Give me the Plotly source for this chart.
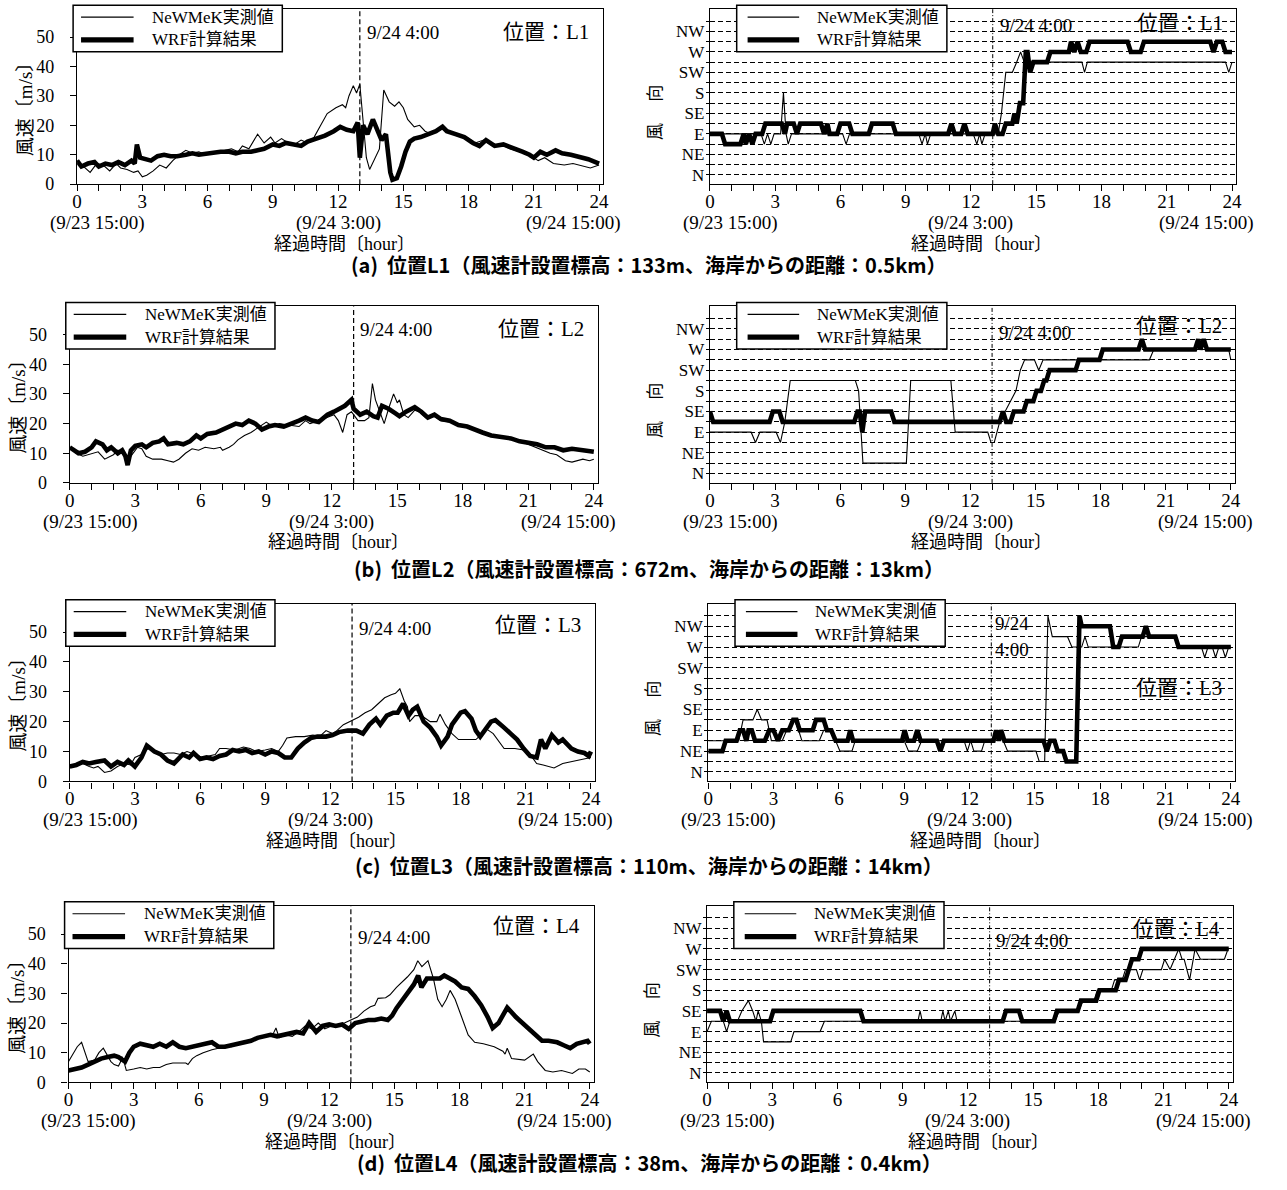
import plotly.graph_objects as go

# ---------------------------------------------------------------- labels
COMPASS16 = ["N", "NNE", "NE", "ENE", "E", "ESE", "SE", "SSE",
             "S", "SSW", "SW", "WSW", "W", "WNW", "NW", "NNW"]
HOUR_TICKS = list(range(0, 25, 3))
SPEED_TICKS = [0, 10, 20, 30, 40, 50]
DATE_LABELS = ["(9/23 15:00)", "(9/24 3:00)", "(9/24 15:00)"]
EVENT_HOUR = 13
EVENT_LABEL = "9/24 4:00"
SERIES_NAMES = ["NeWMeK実測値", "WRF計算結果"]
STATIONS = ["L1", "L2", "L3", "L4"]
CAPTIONS = [
    "(a)  位置L1（風速計設置標高：133m、海岸からの距離：0.5km）",
    "(b)  位置L2（風速計設置標高：672m、海岸からの距離：13km）",
    "(c)  位置L3（風速計設置標高：110m、海岸からの距離：14km）",
    "(d)  位置L4（風速計設置標高：38m、海岸からの距離：0.4km）",
]
X_TITLE = "経過時間〔hour〕"
SPEED_TITLE = "風速〔m/s〕"
DIR_TITLE = "風　 向"

# ---------------------------------------------------------------- wind speed (hour, m/s)
l1_speed_obs = [(0, 8), (0.3, 6), (0.6, 4), (0.9, 7), (1.2, 6.5), (1.5, 4.5), (1.8, 7), (2.0, 5.5),
                (2.3, 5), (2.6, 4), (2.8, 4.5), (3.0, 2.5), (3.2, 3), (3.5, 4.5), (3.8, 6.5), (4.1, 5.5),
                (4.4, 8), (4.7, 10), (5.0, 11.5), (5.3, 10.5), (5.6, 11), (5.9, 10), (6.2, 11), (6.5, 10.5),
                (6.8, 11.5), (7.1, 12), (7.4, 11), (7.6, 13), (7.9, 12), (8.3, 17), (8.6, 14), (8.9, 16),
                (9.1, 14), (9.4, 15.5), (9.7, 14), (10.0, 13.5), (10.3, 15), (10.6, 14), (10.9, 16),
                (11.2, 20), (11.5, 24), (11.9, 26), (12.2, 27), (12.35, 26), (12.5, 30), (12.7, 33.5),
                (12.85, 31), (13.0, 34), (13.15, 20), (13.3, 9), (13.45, 5), (13.7, 9), (13.9, 12),
                (14.1, 32), (14.35, 28), (14.6, 26.5), (14.8, 28), (15.0, 26), (15.2, 22), (15.5, 19.5),
                (15.75, 20), (16.0, 18), (16.3, 17), (16.6, 18), (16.85, 19.5), (17.1, 18), (17.5, 17),
                (17.9, 16), (18.3, 14), (18.7, 15), (19.1, 13), (19.5, 13.5), (19.9, 12), (20.4, 11),
                (20.8, 10), (21.2, 8), (21.5, 9), (21.9, 7), (22.4, 6.5), (22.8, 7), (23.3, 6),
                (23.6, 5.5), (24.0, 6.5)]
l1_speed_wrf = [(0, 8), (0.2, 6), (0.5, 7), (0.8, 7.5), (1.0, 6), (1.3, 7), (1.6, 6.5), (1.9, 7.5),
                (2.2, 6.5), (2.5, 8), (2.65, 7), (2.75, 13.5), (2.9, 9), (3.1, 8.5), (3.4, 8), (3.7, 9.5),
                (4.0, 10), (4.3, 9.5), (4.6, 9.5), (5.0, 10), (5.3, 10.5), (5.6, 10), (6.0, 10.5),
                (6.3, 10.5), (6.6, 11), (7.0, 11), (7.3, 10.5), (7.6, 11), (8.0, 11), (8.3, 11.5),
                (8.6, 12), (9.0, 13.5), (9.3, 13), (9.6, 14), (10.0, 13.5), (10.3, 13), (10.6, 14.5),
                (11.0, 15.5), (11.4, 16.5), (11.8, 18), (12.1, 19.5), (12.4, 18.5), (12.7, 18),
                (12.9, 21), (13.0, 9), (13.15, 20), (13.35, 17), (13.6, 22), (13.8, 18), (14.0, 15),
                (14.2, 17), (14.3, 10), (14.4, 4), (14.5, 1.5), (14.7, 2), (14.9, 6), (15.1, 11),
                (15.3, 14.5), (15.5, 15.5), (15.8, 16), (16.2, 17), (16.5, 18), (16.8, 19.5), (17.0, 18),
                (17.4, 17), (17.8, 16), (18.2, 14), (18.5, 13), (18.8, 15), (19.2, 13), (19.6, 13.5),
                (20.0, 12.5), (20.5, 11), (20.8, 10), (21.0, 9), (21.3, 11), (21.6, 10), (22.0, 11.5),
                (22.3, 10.5), (22.7, 10), (23.0, 9.5), (23.5, 8.5), (24.0, 7)]

l2_speed_obs = [(0, 12), (0.3, 10), (0.6, 9), (1.0, 10), (1.3, 10.5), (1.6, 8), (2.0, 9.5), (2.2, 11),
                (2.5, 10), (2.7, 8), (2.9, 10), (3.1, 12), (3.3, 11.5), (3.5, 9), (3.8, 8), (4.2, 8),
                (4.5, 7.5), (4.75, 7), (5.0, 8), (5.3, 10), (5.6, 11.5), (5.9, 11), (6.2, 12), (6.6, 11.5),
                (6.9, 12), (7.0, 11), (7.3, 12), (7.5, 13), (7.7, 14.5), (8.0, 16), (8.3, 17), (8.5, 18),
                (8.8, 19.5), (9.0, 20.5), (9.3, 19), (9.6, 20), (10.0, 19.5), (10.5, 19), (10.8, 21),
                (11.0, 20), (11.4, 21), (11.8, 22), (12.1, 23), (12.3, 21), (12.5, 17), (12.7, 23),
                (12.9, 24), (13.0, 23), (13.2, 21), (13.5, 21), (13.7, 22), (13.86, 33.5), (14.0, 28),
                (14.2, 24), (14.4, 20), (14.6, 25), (14.83, 30), (15.0, 27), (15.1, 28), (15.3, 23),
                (15.5, 22), (15.8, 24.5), (16.0, 24), (16.3, 22), (16.6, 23), (17.0, 21), (17.5, 20.5),
                (18.0, 19), (18.5, 18), (19.0, 17), (19.5, 16), (20.0, 15), (20.5, 14.5), (21.0, 13),
                (21.3, 12), (21.7, 11), (22.0, 10), (22.3, 9.5), (22.7, 7.5), (23.0, 7), (23.5, 8),
                (23.8, 7.5), (24.0, 8)]
l2_speed_wrf = [(0, 12), (0.2, 11), (0.4, 10), (0.7, 10.5), (1.0, 12), (1.2, 14), (1.5, 13), (1.7, 11),
                (1.9, 12), (2.2, 10), (2.4, 11), (2.55, 9), (2.65, 6), (2.8, 11), (3.0, 12.5), (3.3, 13),
                (3.5, 12), (3.8, 13.5), (4.1, 14), (4.3, 15), (4.5, 13), (4.9, 13.5), (5.2, 13), (5.5, 14),
                (5.8, 16), (6.0, 15), (6.3, 16.5), (6.7, 17), (7.0, 18), (7.3, 19), (7.6, 20), (7.9, 19.5),
                (8.2, 21), (8.5, 20), (8.8, 18), (9.1, 19), (9.4, 19.5), (9.8, 19), (10.2, 20), (10.5, 21),
                (10.8, 22), (11.1, 21), (11.4, 20.5), (11.8, 23), (12.1, 24), (12.4, 25), (12.6, 26),
                (12.9, 28), (13.0, 25), (13.3, 23), (13.6, 24), (13.9, 22.5), (14.1, 22), (14.3, 26),
                (14.6, 25), (14.9, 23.5), (15.1, 22.5), (15.4, 24), (15.8, 25.5), (16.1, 24), (16.4, 22),
                (16.7, 23), (17.0, 21.5), (17.4, 21), (17.8, 19.5), (18.2, 19), (18.5, 18), (18.9, 17),
                (19.3, 16), (19.8, 15.5), (20.2, 15), (20.6, 14), (21.0, 13.5), (21.4, 13), (21.8, 12),
                (22.2, 12), (22.6, 11), (23.0, 11.5), (23.5, 11), (24.0, 10.5)]

l3_speed_obs = [(0, 5), (0.3, 5.5), (0.6, 6), (0.9, 5), (1.1, 4.5), (1.3, 5), (1.6, 3), (1.9, 3.5),
                (2.2, 5), (2.5, 6), (2.8, 5.5), (3.0, 8), (3.3, 9), (3.6, 11), (3.9, 10), (4.2, 9),
                (4.5, 9.5), (4.8, 9.5), (5.1, 9), (5.4, 10), (5.8, 9), (6.1, 8), (6.4, 8.5), (6.7, 9),
                (6.9, 11), (7.2, 11), (7.6, 10.5), (8.0, 11.5), (8.3, 11), (8.6, 10), (9.0, 10.5),
                (9.3, 11), (9.6, 10), (9.8, 12), (10.0, 14.5), (10.4, 15), (10.8, 15), (11.2, 15.5),
                (11.5, 15), (11.8, 17), (12.1, 16), (12.3, 17), (12.6, 19), (13.0, 20.5), (13.3, 21.5),
                (13.6, 23), (13.9, 24), (14.2, 26), (14.5, 28), (14.8, 29), (15.0, 29.5), (15.2, 31),
                (15.4, 27), (15.55, 25), (15.65, 20), (15.9, 22), (16.2, 22), (16.6, 20), (16.9, 20),
                (17.05, 22.5), (17.3, 19), (17.6, 16), (17.9, 14), (18.3, 14), (18.7, 14), (19.0, 16),
                (19.2, 17.5), (19.5, 16), (19.8, 13), (20.0, 11), (20.5, 11), (20.9, 10.5), (21.2, 9),
                (21.5, 6), (21.8, 5.5), (22.1, 5), (22.3, 4.5), (22.7, 6), (23.0, 6.5), (23.3, 7),
                (23.7, 7.5), (24.0, 8)]
l3_speed_wrf = [(0, 5), (0.3, 5.5), (0.6, 6.5), (0.9, 6), (1.2, 6.5), (1.6, 7), (1.9, 5), (2.2, 6.5),
                (2.5, 5.5), (2.7, 7), (3.0, 5), (3.3, 8), (3.55, 12), (3.9, 10), (4.2, 9), (4.5, 7),
                (4.8, 6), (5.0, 7.5), (5.2, 9), (5.5, 8), (5.7, 9.5), (6.0, 7.5), (6.3, 8), (6.6, 7.5),
                (6.9, 8.5), (7.2, 9), (7.5, 10.5), (7.8, 10), (8.1, 10.5), (8.4, 9.5), (8.7, 10), (9.0, 9),
                (9.3, 10), (9.6, 9.5), (9.9, 8), (10.2, 8), (10.5, 11), (10.8, 13), (11.1, 14.5),
                (11.4, 15), (11.8, 15), (12.1, 15.5), (12.4, 16.5), (12.8, 17), (13.2, 17), (13.5, 16),
                (13.8, 19), (14.1, 21), (14.3, 19), (14.6, 22), (14.9, 23), (15.1, 23), (15.35, 26),
                (15.6, 22), (15.8, 24), (16.0, 25), (16.3, 20), (16.6, 18), (16.9, 15), (17.1, 12),
                (17.4, 15), (17.6, 19), (17.8, 21), (18.0, 23), (18.2, 23.5), (18.5, 21), (18.7, 17),
                (18.9, 15), (19.2, 18), (19.4, 20), (19.6, 20.5), (19.8, 19), (20.0, 18), (20.3, 16),
                (20.6, 14), (20.9, 11), (21.2, 8.5), (21.5, 8), (21.7, 14), (21.9, 11), (22.2, 15.5),
                (22.5, 13), (22.7, 14), (23.1, 11), (23.4, 10), (23.7, 9.5), (23.9, 8.5), (24.0, 10)]

l4_speed_obs = [(0, 7), (0.15, 9), (0.4, 12), (0.6, 13.5), (0.75, 10), (0.9, 7), (1.2, 7.5), (1.4, 10),
                (1.6, 11.5), (1.8, 9), (1.95, 7), (2.1, 6), (2.3, 5.5), (2.4, 7), (2.45, 8.7), (2.55, 7),
                (2.66, 4), (3.0, 4.5), (3.3, 5), (3.6, 4.5), (3.9, 5), (4.2, 5), (4.5, 6), (4.8, 6.5),
                (5.1, 6.5), (5.4, 6.5), (5.5, 6), (5.7, 8), (5.9, 9), (6.2, 10), (6.6, 11), (6.9, 11.5),
                (7.2, 12.5), (7.5, 12), (7.8, 13), (8.1, 13.5), (8.4, 14), (8.7, 14.5), (9.0, 15.5),
                (9.4, 16), (9.55, 18.3), (9.7, 15), (10.0, 16), (10.3, 15.5), (10.6, 17), (10.9, 19),
                (11.2, 18), (11.5, 20), (11.8, 18), (12.1, 19), (12.4, 19.5), (12.7, 20), (13.0, 21),
                (13.3, 22), (13.6, 24), (13.9, 25.5), (14.1, 26), (14.25, 28.3), (14.6, 28.5),
                (14.8, 29.5), (15.1, 32), (15.4, 34), (15.6, 35.5), (15.9, 38), (16.08, 41),
                (16.27, 39), (16.4, 40), (16.55, 41), (16.8, 35), (17.0, 28), (17.2, 25.5), (17.4, 28),
                (17.57, 31), (17.8, 28), (18.1, 22), (18.4, 16), (18.7, 13.5), (19.1, 13), (19.6, 12),
                (20.0, 10.5), (20.1, 9.5), (20.2, 11.5), (20.4, 8), (20.8, 7.5), (21.0, 7.5), (21.4, 9.5),
                (21.6, 7), (21.95, 4), (22.3, 3.5), (22.7, 4), (23.0, 3.5), (23.2, 3), (23.5, 4.5),
                (23.8, 4.5), (24.0, 3.5)]
l4_speed_wrf = [(0, 4), (0.3, 4.5), (0.6, 5), (0.9, 6), (1.2, 7), (1.5, 8), (1.8, 8.5), (2.1, 9),
                (2.3, 8.5), (2.6, 7), (2.8, 10), (3.0, 12), (3.3, 13), (3.6, 12.5), (3.9, 12), (4.2, 13),
                (4.5, 12), (4.8, 13.5), (5.1, 12), (5.4, 11.5), (5.7, 12), (6.0, 12.5), (6.3, 13),
                (6.6, 13.5), (6.9, 12), (7.2, 12), (7.5, 12.5), (7.8, 13), (8.1, 13.5), (8.4, 14),
                (8.7, 15), (9.0, 15.5), (9.3, 16), (9.6, 15.5), (9.9, 16), (10.2, 16.5), (10.5, 17),
                (10.8, 16.5), (11.08, 20), (11.4, 17), (11.7, 19), (12.0, 19.5), (12.3, 19), (12.6, 19.5),
                (12.9, 18), (13.2, 20), (13.5, 20.5), (13.8, 21), (14.1, 21), (14.4, 21.5), (14.7, 21),
                (14.9, 22.5), (15.1, 25), (15.4, 28), (15.6, 29.5), (15.9, 33), (16.1, 36), (16.25, 32),
                (16.5, 35), (16.8, 35), (17.1, 35), (17.3, 36), (17.6, 35), (17.8, 34), (18.1, 32),
                (18.4, 31.5), (18.7, 29), (19.0, 26), (19.3, 22), (19.53, 18.3), (19.8, 20), (20.05, 23),
                (20.2, 25.2), (20.6, 22), (20.9, 20), (21.2, 18), (21.5, 15.5), (21.8, 14), (22.1, 14),
                (22.5, 13.5), (22.8, 12.5), (23.1, 11.5), (23.4, 13), (23.7, 13.5), (23.9, 14), (24.0, 13)]

# ---------------------------------------------------------------- wind direction (hour, 16-point compass)
l1_dir_obs = [(0, "E"), (2.35, "E"), (2.5, "ENE"), (2.65, "E"), (2.8, "ENE"), (2.95, "E"), (3.25, "E"),
              (3.38, "S"), (3.5, "E"), (3.6, "ENE"), (3.75, "E"), (6.1, "E"), (6.26, "ENE"), (6.42, "E"),
              (9.6, "E"), (9.75, "ENE"), (9.9, "E"), (10.0, "ENE"), (10.15, "E"), (12.1, "E"),
              (12.27, "ENE"), (12.4, "E"), (12.5, "ENE"), (12.65, "E"), (13.25, "E"), (13.4, "SE"),
              (13.6, "SW"), (13.9, "SW"), (14.1, "WSW"), (14.28, "W"), (14.45, "WSW"), (17.1, "WSW"),
              (17.22, "SW"), (17.35, "WSW"), (23.7, "WSW"), (23.85, "SW"), (24.0, "WSW")]
l1_dir_wrf = [(0, "E"), (0.55, "E"), (0.7, "ENE"), (1.4, "ENE"), (1.55, "E"), (1.65, "ENE"), (1.8, "E"),
              (1.95, "ENE"), (2.1, "E"), (2.4, "E"), (2.55, "ESE"), (3.3, "ESE"), (3.45, "E"),
              (3.55, "ESE"), (3.85, "ESE"), (4.0, "E"), (4.15, "ESE"), (5.1, "ESE"), (5.25, "E"),
              (5.4, "ESE"), (5.5, "E"), (5.85, "E"), (6.0, "ESE"), (6.4, "ESE"), (6.55, "E"), (7.3, "E"),
              (7.45, "ESE"), (8.4, "ESE"), (8.55, "E"), (10.95, "E"), (11.1, "ESE"), (11.25, "E"),
              (11.55, "E"), (11.7, "ESE"), (11.85, "E"), (13.0, "E"), (13.1, "ESE"), (13.25, "E"),
              (13.45, "E"), (13.6, "ESE"), (13.9, "ESE"), (14.0, "SE"), (14.1, "ESE"), (14.25, "SSE"),
              (14.4, "SSE"), (14.52, "W"), (14.6, "W"), (14.72, "SW"), (14.87, "WSW"), (15.5, "WSW"),
              (15.65, "W"), (16.5, "W"), (16.6, "WNW"), (16.75, "W"), (16.9, "WNW"), (17.05, "W"),
              (17.3, "W"), (17.45, "WNW"), (19.2, "WNW"), (19.35, "W"), (19.8, "W"), (19.95, "WNW"),
              (23.0, "WNW"), (23.15, "W"), (23.3, "WNW"), (23.55, "WNW"), (23.7, "W"), (24.0, "W")]

l2_dir_obs = [(0, "E"), (1.9, "E"), (2.1, "ENE"), (2.3, "E"), (3.05, "E"), (3.25, "ENE"), (3.45, "ESE"),
              (3.7, "SSW"), (6.7, "SSW"), (6.85, "S"), (7.05, "NNE"), (9.05, "NNE"), (9.25, "SSW"),
              (11.1, "SSW"), (11.3, "E"), (12.8, "E"), (12.95, "ENE"), (13.1, "ENE"), (13.35, "ESE"),
              (13.6, "SE"), (13.85, "SSE"), (14.1, "S"), (14.3, "SW"), (14.5, "WSW"), (14.95, "WSW"),
              (15.15, "SW"), (15.35, "WSW"), (20.25, "WSW"), (20.45, "W"), (23.9, "W"), (24.0, "WSW")]
l2_dir_wrf = [(0, "SE"), (0.15, "ESE"), (2.75, "ESE"), (2.9, "SE"), (3.2, "SE"), (3.35, "ESE"),
              (6.65, "ESE"), (6.8, "SE"), (6.9, "SE"), (7.02, "E"), (7.15, "SE"), (8.35, "SE"),
              (8.5, "ESE"), (13.35, "ESE"), (13.5, "SE"), (13.65, "ESE"), (13.85, "ESE"), (14.0, "SE"),
              (14.45, "SE"), (14.6, "SSE"), (14.9, "SSE"), (15.05, "S"), (15.25, "S"), (15.4, "SSW"),
              (15.5, "SSW"), (15.65, "SW"), (16.85, "SW"), (17.0, "WSW"), (17.95, "WSW"), (18.1, "W"),
              (19.75, "W"), (19.9, "WNW"), (20.05, "W"), (22.35, "W"), (22.5, "WNW"), (22.6, "W"),
              (22.75, "WNW"), (22.9, "W"), (24.0, "W")]

l3_dir_obs = [(0, "ENE"), (1.4, "ENE"), (1.6, "ESE"), (2.05, "ESE"), (2.25, "SE"), (2.45, "ESE"),
              (2.7, "ESE"), (2.9, "ENE"), (3.4, "ENE"), (3.6, "E"), (3.95, "ESE"), (4.15, "E"),
              (4.3, "ENE"), (5.1, "ENE"), (5.3, "E"), (5.6, "E"), (5.85, "ENE"), (6.05, "NE"),
              (6.6, "NE"), (6.75, "ENE"), (9.0, "ENE"), (9.2, "NE"), (9.6, "NE"), (9.8, "ENE"),
              (11.75, "ENE"), (11.9, "NE"), (12.05, "ENE"), (12.2, "NE"), (12.55, "NE"), (12.7, "ENE"),
              (13.15, "ENE"), (13.35, "E"), (13.55, "ENE"), (13.75, "NE"), (15.05, "NE"), (15.2, "NNE"),
              (15.45, "NNE"), (15.6, "NNW"), (15.8, "WNW"), (16.5, "WNW"), (16.7, "W"), (17.15, "W"),
              (17.3, "WNW"), (17.45, "W"), (19.75, "W"), (19.9, "WNW"), (21.5, "WNW"), (21.65, "W"),
              (22.65, "W"), (22.8, "WSW"), (22.95, "W"), (23.15, "W"), (23.3, "WSW"), (23.45, "W"),
              (23.6, "W"), (23.75, "WSW"), (23.9, "W"), (24.0, "W")]
l3_dir_wrf = [(0, "NE"), (0.65, "NE"), (0.8, "ENE"), (1.3, "ENE"), (1.45, "E"), (1.6, "E"), (1.75, "ENE"),
              (1.85, "E"), (2.0, "E"), (2.15, "ENE"), (2.6, "ENE"), (2.8, "E"), (3.0, "E"), (3.2, "ENE"),
              (3.4, "E"), (3.7, "E"), (3.9, "ESE"), (4.05, "ESE"), (4.2, "E"), (4.8, "E"), (4.95, "ESE"),
              (5.3, "ESE"), (5.45, "E"), (5.65, "E"), (5.85, "ENE"), (6.4, "ENE"), (6.52, "E"),
              (6.65, "ENE"), (8.9, "ENE"), (9.02, "E"), (9.15, "ENE"), (9.45, "ENE"), (9.6, "E"),
              (9.75, "ENE"), (10.5, "ENE"), (10.66, "NE"), (10.82, "ENE"), (13.1, "ENE"), (13.22, "E"),
              (13.35, "ENE"), (13.45, "E"), (13.6, "ENE"), (15.4, "ENE"), (15.55, "NE"), (15.7, "ENE"),
              (15.9, "ENE"), (16.05, "NE"), (16.3, "NE"), (16.45, "NNE"), (16.9, "NNE"), (17.05, "NNW"),
              (17.15, "NW"), (18.45, "NW"), (18.6, "W"), (18.85, "W"), (19.0, "WNW"), (19.95, "WNW"),
              (20.1, "NW"), (20.25, "WNW"), (21.45, "WNW"), (21.6, "W"), (24.0, "W")]

l4_dir_obs = [(0, "E"), (0.2, "ESE"), (0.75, "ESE"), (0.9, "E"), (1.05, "ESE"), (1.4, "ESE"), (1.6, "SE"),
              (1.9, "SSE"), (2.1, "SE"), (2.25, "ESE"), (2.35, "SE"), (2.5, "ESE"), (2.6, "ENE"),
              (3.85, "ENE"), (4.0, "E"), (5.2, "E"), (5.4, "ESE"), (9.7, "ESE"), (9.8, "SE"), (9.9, "ESE"),
              (10.75, "ESE"), (10.85, "SE"), (10.95, "ESE"), (11.1, "SE"), (11.2, "ESE"), (11.4, "SE"),
              (11.5, "ESE"), (16.0, "ESE"), (16.2, "SE"), (17.1, "SE"), (17.3, "SSE"), (17.8, "SSE"),
              (17.95, "S"), (18.6, "S"), (18.75, "SSW"), (19.1, "SSW"), (19.25, "SW"), (19.75, "SW"),
              (19.9, "SSW"), (20.05, "SW"), (20.9, "SW"), (21.05, "WSW"), (21.3, "SW"), (21.5, "WSW"),
              (21.7, "W"), (21.85, "WSW"), (21.95, "WSW"), (22.2, "SSW"), (22.45, "W"), (22.7, "WSW"),
              (23.8, "WSW"), (23.97, "W"), (24.0, "W")]
l4_dir_wrf = [(0, "SE"), (0.6, "SE"), (0.75, "ESE"), (0.9, "SE"), (1.05, "ESE"), (2.9, "ESE"), (3.05, "SE"),
              (7.05, "SE"), (7.2, "ESE"), (13.6, "ESE"), (13.75, "SE"), (14.35, "SE"), (14.5, "ESE"),
              (15.95, "ESE"), (16.1, "SE"), (17.05, "SE"), (17.2, "SSE"), (17.9, "SSE"), (18.05, "S"),
              (18.8, "S"), (18.95, "SSW"), (19.25, "SSW"), (19.4, "SW"), (19.55, "WSW"), (19.85, "WSW"),
              (20.0, "W"), (24.0, "W")]

SPEED_SERIES = [(l1_speed_obs, l1_speed_wrf), (l2_speed_obs, l2_speed_wrf),
                (l3_speed_obs, l3_speed_wrf), (l4_speed_obs, l4_speed_wrf)]
DIR_SERIES = [(l1_dir_obs, l1_dir_wrf), (l2_dir_obs, l2_dir_wrf),
              (l3_dir_obs, l3_dir_wrf), (l4_dir_obs, l4_dir_wrf)]

# ---------------------------------------------------------------- page geometry (pixels)
W, H = 1287, 1190
X_MAX = 24.18
SPEED_RANGE = [0, 59.5]
DIR_RANGE = [-0.91, 16.17]
# frame top, frame bottom, left-panel x of hour 0 / 24, right-panel x of hour 0 / 24
ROWS = [
    (9.3, 185.7, 72.7, 599.2, 711.0, 1237.6),
    (309.0, 487.0, 65.3, 593.9, 711.0, 1236.4),
    (608.8, 788.0, 65.3, 591.0, 709.3, 1236.4),
    (913.5, 1091.5, 64.1, 589.8, 708.1, 1234.3),
]
CAPTION_Y = [267, 573, 873, 1172]
SPEED_EVENT_Y = [51.6, 51.7, 51.3, 48.8]
SPEED_STATION_Y = [51.7, 52.0, 52.4, 52.8]
DIR_EVENT_POS = [(13.24, 14.6), (13.24, 13.65), None, (13.18, 12.8)]
DIR_STATION_Y = [14.8, 14.3, 8.1, 13.9]

THIN, THICK = 1.1, 4.6
SERIF = "Liberation Serif, Noto Sans CJK JP, serif"
GOTHIC = "Noto Sans CJK JP, sans-serif"


def px(x):
    return x / W


def py(y):
    return 1 - y / H


fig = go.Figure()
shapes, annotations, axes = [], [], {}


def note(text, x, y, xref="paper", yref="paper", size=19, xanchor="center", yanchor="middle",
         family=SERIF, angle=0, weight="normal"):
    annotations.append(dict(text=text, x=x, y=y, xref=xref, yref=yref, showarrow=False,
                            xanchor=xanchor, yanchor=yanchor, textangle=angle,
                            font=dict(family=family, size=size, color="black", weight=weight)))


for r in range(4):
    top, bot, lx0, lx24, rx0, rx24 = ROWS[r]
    for c in range(2):
        n = 2 * r + c + 1
        x0, x24 = (lx0, lx24) if c == 0 else (rx0, rx24)
        pph = (x24 - x0) / 24.0
        xid = "x" if n == 1 else f"x{n}"
        yid = "y" if n == 1 else f"y{n}"
        xkey = "xaxis" if n == 1 else f"xaxis{n}"
        ykey = "yaxis" if n == 1 else f"yaxis{n}"

        axes[xkey] = dict(
            domain=[px(x0), px(x0 + X_MAX * pph)], anchor=yid, range=[0, X_MAX],
            tickmode="array", tickvals=HOUR_TICKS, ticktext=[str(h) for h in HOUR_TICKS],
            ticks="outside", ticklen=6, tickwidth=1.2, tickcolor="black", ticklabelstandoff=-6,
            minor=dict(ticks="outside", ticklen=6, tickwidth=1.2, tickcolor="black",
                       tickmode="linear", tick0=0, dtick=1, showgrid=False),
            tickfont=dict(family=SERIF, size=19, color="black"),
            showline=True, mirror=True, linecolor="black", linewidth=1.3,
            showgrid=False, zeroline=False, fixedrange=True,
        )
        if c == 0:
            axes[ykey] = dict(
                domain=[py(bot), py(top)], anchor=xid, range=SPEED_RANGE,
                tickmode="array", tickvals=SPEED_TICKS, ticktext=[str(v) for v in SPEED_TICKS],
                ticks="outside", ticklen=6, tickwidth=1.2, tickcolor="black", ticklabelstandoff=12,
                tickfont=dict(family=SERIF, size=18, color="black"),
                showline=True, mirror=True, linecolor="black", linewidth=1.3,
                showgrid=False, zeroline=False, fixedrange=True,
            )
            obs, wrf = SPEED_SERIES[r]
            ys_obs = [v for _, v in obs]
            ys_wrf = [v for _, v in wrf]
        else:
            axes[ykey] = dict(
                domain=[py(bot), py(top)], anchor=xid, range=DIR_RANGE,
                tickmode="array", tickvals=list(range(16)),
                ticktext=[name if i % 2 == 0 else "" for i, name in enumerate(COMPASS16)],
                ticks="outside", ticklen=3, tickwidth=1, tickcolor="black", ticklabelstandoff=-2,
                tickfont=dict(family=SERIF, size=17, color="black"),
                showline=True, mirror=True, linecolor="black", linewidth=1.3,
                showgrid=True, gridcolor="black", gridwidth=1, griddash="5px,3px",
                zeroline=False, fixedrange=True,
            )
            obs, wrf = DIR_SERIES[r]
            ys_obs = [COMPASS16.index(d) for _, d in obs]
            ys_wrf = [COMPASS16.index(d) for _, d in wrf]

        fig.add_trace(go.Scatter(x=[t for t, _ in obs], y=ys_obs, mode="lines", name=SERIES_NAMES[0],
                                 line=dict(color="black", width=THIN), xaxis=xid, yaxis=yid,
                                 showlegend=False, hoverinfo="skip"))
        fig.add_trace(go.Scatter(x=[t for t, _ in wrf], y=ys_wrf, mode="lines", name=SERIES_NAMES[1],
                                 line=dict(color="black", width=THICK), xaxis=xid, yaxis=yid,
                                 showlegend=False, hoverinfo="skip"))

        # event marker line at 9/24 4:00
        shapes.append(dict(type="line", xref=xid, yref=f"{yid} domain", x0=EVENT_HOUR, x1=EVENT_HOUR,
                           y0=0, y1=1, layer="above",
                           line=dict(color="black", width=1.2 if c == 0 else 1,
                                     dash="5px,3px" if c == 0 else "4px,2px,1px,2px")))

        # legend box
        if c == 0:
            bx0, bx1, la, lb, tx = x0 - 4, x0 + 207, x0 + 4, x0 + 57, x0 + 74
        else:
            bx0, bx1, la, lb, tx = x0 + 27, x0 + 239, x0 + 38, x0 + 90, x0 + 106
        shapes.append(dict(type="rect", xref="paper", yref="paper", x0=px(bx0), x1=px(bx1),
                           y0=py(top + 43), y1=py(top - 4), layer="above",
                           line=dict(color="black", width=1.5), fillcolor="white"))
        for k, width in enumerate([THIN, THICK + 0.6]):
            yy = top + 8 + 23 * k
            shapes.append(dict(type="line", xref="paper", yref="paper", x0=px(la), x1=px(lb),
                               y0=py(yy), y1=py(yy), layer="above",
                               line=dict(color="black", width=width)))
            note(SERIES_NAMES[k], px(tx), py(yy), size=17, xanchor="left")

        # in-panel labels
        if c == 0:
            note(EVENT_LABEL, 13.22, SPEED_EVENT_Y[r], xref=xid, yref=yid, xanchor="left")
            note(f"位置：{STATIONS[r]}", 23.65, SPEED_STATION_Y[r], xref=xid, yref=yid,
                 xanchor="right", size=21)
        else:
            if DIR_EVENT_POS[r] is None:
                note("9/24", 13.1, 14.3, xref=xid, yref=yid, xanchor="left")
                note("4:00", 13.1, 11.75, xref=xid, yref=yid, xanchor="left")
            else:
                ex, ey = DIR_EVENT_POS[r]
                note(EVENT_LABEL, ex, ey, xref=xid, yref=yid, xanchor="left")
            note(f"位置：{STATIONS[r]}", 23.7, DIR_STATION_Y[r], xref=xid, yref=yid,
                 xanchor="right", size=21)

        # date labels under the hour ticks
        date_y = py(bot + 39)
        note(DATE_LABELS[0], px(x0 + 20), date_y, size=19)
        note(DATE_LABELS[1], px(x0 + 12 * pph), date_y, size=19)
        note(DATE_LABELS[2], px(x24 - 26), date_y, size=19)
        note(X_TITLE, px(x0 + (12.3 if c == 0 else 12.5) * pph), py(bot + 60), size=18)

        # axis titles
        mid = (top + bot) / 2
        if c == 0:
            note(SPEED_TITLE, px(x0 - 52), py(mid + 8), size=19, angle=-90)
        else:
            note(DIR_TITLE, px(x0 - 55), py(mid + 16), size=17, angle=-90)

    note(CAPTIONS[r], px(650), py(CAPTION_Y[r]), size=20, family=GOTHIC, weight="bold")

fig.update_layout(
    width=W, height=H, margin=dict(l=0, r=0, t=0, b=0, pad=0),
    paper_bgcolor="white", plot_bgcolor="white",
    font=dict(family=SERIF, color="black"),
    showlegend=False, hovermode=False,
    shapes=shapes, annotations=annotations, **axes,
)

fig.write_html("out.html")
